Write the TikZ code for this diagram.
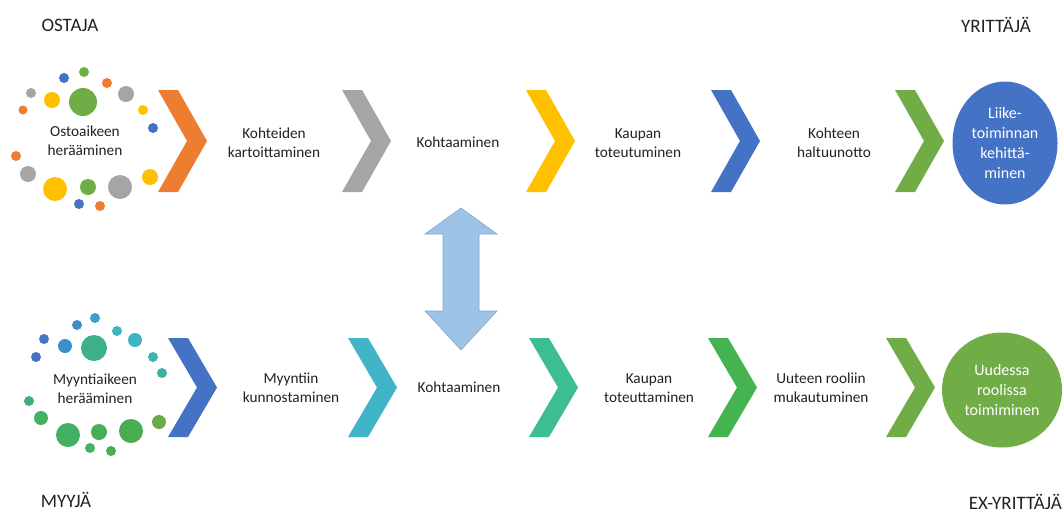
\documentclass[tikz,border=0pt]{standalone}
\usepackage{fontspec}
\setmainfont{Carlito}
\usetikzlibrary{shapes.geometric}
\definecolor{txt}{HTML}{222222}
\definecolor{cOrange}{HTML}{ED7D31}
\definecolor{cGray}{HTML}{A5A5A5}
\definecolor{cYellow}{HTML}{FFC000}
\definecolor{cBlue}{HTML}{4472C4}
\definecolor{cGreen}{HTML}{70AD47}
\definecolor{cTeal}{HTML}{41B4C8}
\definecolor{cSea}{HTML}{3DBE92}
\definecolor{cMid}{HTML}{44B350}
\definecolor{cSky}{HTML}{9DC3E6}
\definecolor{cSkyLine}{HTML}{7FA6CF}
\definecolor{dA}{HTML}{3B8FCB}
\definecolor{dB}{HTML}{3FB4C2}
\definecolor{dC}{HTML}{3DB08A}
\definecolor{dD}{HTML}{43B064}
\definecolor{dE}{HTML}{4FAA45}
\tikzset{
  steplabel/.style={text=txt, align=center, font=\fontsize{15.3}{19}\selectfont},
  rolelabel/.style={text=txt, inner sep=1pt, font=\fontsize{19}{22}\selectfont},
  goal/.style={ellipse, text=white, align=center, inner sep=0pt,
    font=\fontsize{16}{20}\selectfont},
}
% chevron: left x, top y, bottom y, colour
\newcommand\chevron[4]{%
  \fill[#4] (#1,#2) -- ++(20,0) -- (#1+49,{(#2+#3)/2}) -- (#1+20,#3)
    -- (#1,#3) -- (#1+29,{(#2+#3)/2}) -- cycle;}
% bubble: x, y, radius, colour
\newcommand\bubble[4]{\fill[#4] (#1,#2) circle[radius=#3];}
\begin{document}
\begin{tikzpicture}[x=1pt,y=-1pt]
\useasboundingbox[fill=white] (0,0) rectangle (1064,514);

% role labels
\node[rolelabel] (ostaja) at (70,25) {OSTAJA};
\node[rolelabel] (yrittaja) at (996,25) {YRITTÄJÄ};
\node[rolelabel] (myyja) at (66,500) {MYYJÄ};
\node[rolelabel, anchor=east] (exyrittaja) at (1063,502) {EX-YRITTÄJÄ};

% buyer's awakening bubbles
\bubble{64}{78}{5}{cBlue}
\bubble{84}{72}{5}{cGreen}
\bubble{107}{83}{5}{cOrange}
\bubble{31}{93}{5}{cGray}
\bubble{52}{100}{8}{cYellow}
\bubble{83}{102}{14}{cGreen}
\bubble{126}{94}{8}{cGray}
\bubble{23}{110}{4.5}{cOrange}
\bubble{143}{110}{5}{cYellow}
\bubble{153}{128}{5}{cBlue}
\bubble{16}{156}{5}{cOrange}
\bubble{28}{174}{8}{cGray}
\bubble{150}{177}{8}{cYellow}
\bubble{55}{189}{12}{cYellow}
\bubble{88}{187}{8}{cGreen}
\bubble{120}{187}{12}{cGray}
\bubble{79}{204}{5}{cBlue}
\bubble{100}{206}{5}{cOrange}
\node[steplabel] (ostoaike) at (85,141) {Ostoaikeen\\herääminen};

% seller's awakening bubbles
\bubble{95}{318}{5}{dA!60!dB}
\bubble{77}{325}{5}{dA}
\bubble{117}{331}{5}{dB}
\bubble{44}{339}{5}{cBlue!80!dA}
\bubble{65}{346}{7}{dA}
\bubble{94}{348}{13}{dC}
\bubble{135}{340}{7}{dB}
\bubble{36}{357}{5}{cBlue}
\bubble{153}{357}{5}{dB!70!dC}
\bubble{162}{373}{5}{dB!40!dC}
\bubble{29}{401}{5}{dC!60!dD}
\bubble{41}{418}{7}{dD}
\bubble{159}{422}{7}{cGreen!80!dE}
\bubble{68}{435}{12}{dD}
\bubble{99}{432}{8}{dE!40!dD}
\bubble{131}{431}{12}{dE!60!dD}
\bubble{90}{448}{5}{dD}
\bubble{111}{451}{5}{dE!50!dD}
\node[steplabel] (myyntiaike) at (95,389) {Myyntiaikeen\\herääminen};

% buyer's path
\chevron{158}{90}{192}{cOrange}
\chevron{342}{90}{192}{cGray}
\chevron{526}{90}{192}{cYellow}
\chevron{711}{90}{192}{cBlue}
\chevron{895}{90}{192}{cGreen}
\node[steplabel] (kartoitus) at (274,143) {Kohteiden\\kartoittaminen};
\node[steplabel] (kohtaaminenA) at (458,142) {Kohtaaminen};
\node[steplabel] (toteutuminen) at (638,143) {Kaupan\\toteutuminen};
\node[steplabel] (haltuunotto) at (834,143) {Kohteen\\haltuunotto};
\node[goal, fill=cBlue, minimum width=105pt, minimum height=123pt] (kehitys)
  at (1005,143) {Liike-\\toiminnan\\kehittä-\\minen};

% seller's path
\chevron{168}{338}{437}{cBlue}
\chevron{348}{338}{437}{cTeal}
\chevron{529}{338}{437}{cSea}
\chevron{708}{338}{437}{cMid}
\chevron{886}{338}{437}{cGreen}
\node[steplabel] (kunnostus) at (291,388) {Myyntiin\\kunnostaminen};
\node[steplabel] (kohtaaminenB) at (459,387) {Kohtaaminen};
\node[steplabel] (toteuttaminen) at (649,388) {Kaupan\\toteuttaminen};
\node[steplabel] (mukautuminen) at (821,388) {Uuteen rooliin\\mukautuminen};
\node[goal, fill=cGreen, minimum width=120pt, minimum height=115pt] (uusirooli)
  at (1002,390) {Uudessa\\roolissa\\toimiminen};

% meeting point: two-way arrow
\filldraw[fill=cSky, draw=cSkyLine, line width=0.6pt]
  (461,208) -- (497,234) -- (479,234) -- (479,311) -- (497,311) -- (461,350)
  -- (425,311) -- (443,311) -- (443,234) -- (425,234) -- cycle;
\end{tikzpicture}
\end{document}
